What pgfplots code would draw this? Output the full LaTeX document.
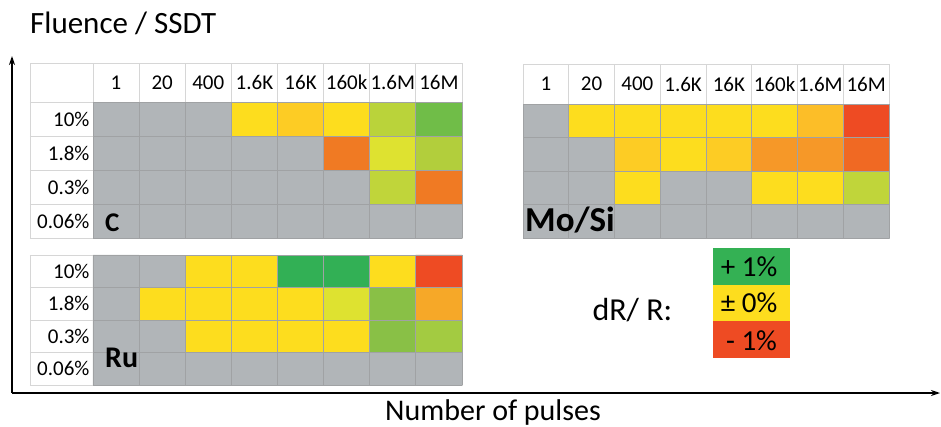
\documentclass[border=0pt]{standalone}
\usepackage{fontspec}
\setmainfont{Carlito}
\usepackage{pgfplots}
\pgfplotsset{compat=1.18}
\usetikzlibrary{arrows.meta}
\definecolor{gridgray}{RGB}{160,162,164}
\definecolor{borderg}{RGB}{214,214,214}
\definecolor{lgreen}{RGB}{52,177,84}
\definecolor{lyellow}{RGB}{253,221,30}
\definecolor{lred}{RGB}{238,75,35}
\pgfplotsset{
 heat/.style={
  colormap={heat}{
   rgb255=(177,181,184) % 0 gray
   rgb255=(253,221,30)  % 1 yellow
   rgb255=(253,204,36)  % 2 gold
   rgb255=(186,211,58)  % 3 light yellow-green
   rgb255=(112,189,72)  % 4 green
   rgb255=(240,122,35)  % 5 orange
   rgb255=(222,226,48)  % 6 lime yellow
   rgb255=(178,206,60)  % 7 yellow-green
   rgb255=(50,176,85)   % 8 dark green
   rgb255=(238,75,35)   % 9 red
   rgb255=(246,168,40)  % 10 orange-yellow
   rgb255=(137,192,70)  % 11 green
   rgb255=(163,203,65)  % 12 green-yellow
   rgb255=(252,190,40)  % 13 amber
   rgb255=(246,152,40)  % 14 light orange
   rgb255=(240,105,35)  % 15 deep orange
   rgb255=(192,213,58)  % 16 yellow-green
  },
  colormap access=direct,
  scale only axis,
  xmin=-0.5,xmax=7.5,ymin=-0.5,ymax=3.5,
  enlargelimits=false,
  axis on top, clip=false,
  axis line style={draw=none},
  major tick length=0pt, minor tick length=0pt,
  minor xtick={-0.5,0.5,...,7.5}, minor ytick={-0.5,0.5,...,3.5},
  xminorgrids, yminorgrids,
  minor grid style={draw=gridgray, line width=0.9pt},
  tick label style={font=\fontsize{21}{25}\selectfont},
  xtick={0,...,7}, ytick={0,...,3},
  xticklabels={1,20,400,1.6K,16K,160k,1.6M,16M},
  yticklabels={0.06\%,0.3\%,1.8\%,10\%},
  xticklabel pos=upper,
 },
 heatcells/.style={matrix plot*, mesh/cols=8, point meta=explicit},
}
\begin{document}
\begin{tikzpicture}
\path[use as bounding box] (0,0) rectangle (941pt,426pt);
% ---------- legend ----------
\begin{axis}[at={(713pt,68pt)}, anchor=south west, scale only axis, width=77pt, height=110pt,
  xmin=0, xmax=1, ymin=0, ymax=3, axis lines=none, clip=false]
\addplot[draw=none, fill=lred] coordinates {(0,0) (1,0) (1,1) (0,1)} --cycle;
\addplot[draw=none, fill=lyellow] coordinates {(0,1) (1,1) (1,2) (0,2)} --cycle;
\addplot[draw=none, fill=lgreen] coordinates {(0,2) (1,2) (1,3) (0,3)} --cycle;
\node[font=\fontsize{29}{33}\selectfont] at (axis cs:0.47,2.5) {+ 1\%};
\node[font=\fontsize{29}{33}\selectfont] at (axis cs:0.47,1.5) {± 0\%};
\node[font=\fontsize{29}{33}\selectfont] at (axis cs:0.5,0.47) {- 1\%};
\end{axis}
% ---------- C ----------
\begin{axis}[heat, at={(93pt,188pt)}, anchor=south west, width=369pt, height=136pt,
  xticklabel style={anchor=center, yshift=19.5pt}]
\addplot[heatcells] coordinates {
(0,0)[0] (1,0)[0] (2,0)[0] (3,0)[0] (4,0)[0] (5,0)[0] (6,0)[0] (7,0)[0]
(0,1)[0] (1,1)[0] (2,1)[0] (3,1)[0] (4,1)[0] (5,1)[0] (6,1)[16] (7,1)[5]
(0,2)[0] (1,2)[0] (2,2)[0] (3,2)[0] (4,2)[0] (5,2)[5] (6,2)[6] (7,2)[7]
(0,3)[0] (1,3)[0] (2,3)[0] (3,3)[1] (4,3)[2] (5,3)[1] (6,3)[3] (7,3)[4]
};
\draw[borderg, line width=0.9pt] (axis cs:-1.866,-0.5) rectangle (axis cs:7.5,4.647);
\pgfplotsinvokeforeach{-0.5,0.5,1.5,2.5,3.5,4.5,5.5,6.5}{
  \draw[borderg, line width=0.9pt] (axis cs:#1,3.5) -- (axis cs:#1,4.647);}
\pgfplotsinvokeforeach{-0.5,0.5,1.5,2.5,3.5}{
  \draw[borderg, line width=0.9pt] (axis cs:-1.866,#1) -- (axis cs:-0.5,#1);}
\draw[borderg, line width=0.9pt] (axis cs:-0.5,-0.5) -- (axis cs:-0.5,4.647);
\end{axis}
% ---------- Ru ----------
\begin{axis}[heat, at={(93pt,41pt)}, anchor=south west, width=369pt, height=130pt,
  xticklabels={}]
\addplot[heatcells] coordinates {
(0,0)[0] (1,0)[0] (2,0)[0] (3,0)[0] (4,0)[0] (5,0)[0] (6,0)[0] (7,0)[0]
(0,1)[0] (1,1)[0] (2,1)[1] (3,1)[1] (4,1)[1] (5,1)[1] (6,1)[11] (7,1)[12]
(0,2)[0] (1,2)[1] (2,2)[1] (3,2)[1] (4,2)[1] (5,2)[6] (6,2)[11] (7,2)[10]
(0,3)[0] (1,3)[0] (2,3)[1] (3,3)[1] (4,3)[8] (5,3)[8] (6,3)[1] (7,3)[9]
};
\draw[borderg, line width=0.9pt] (axis cs:-1.866,-0.5) rectangle (axis cs:7.5,3.5);
\pgfplotsinvokeforeach{-0.5,0.5,1.5,2.5,3.5}{
  \draw[borderg, line width=0.9pt] (axis cs:-1.866,#1) -- (axis cs:-0.5,#1);}
\end{axis}
% ---------- Mo/Si ----------
\begin{axis}[heat, at={(523pt,188pt)}, anchor=south west, width=366pt, height=134pt,
  yticklabels={}, xticklabel style={anchor=center, yshift=20pt}]
\addplot[heatcells] coordinates {
(0,0)[0] (1,0)[0] (2,0)[0] (3,0)[0] (4,0)[0] (5,0)[0] (6,0)[0] (7,0)[0]
(0,1)[0] (1,1)[0] (2,1)[1] (3,1)[0] (4,1)[0] (5,1)[1] (6,1)[1] (7,1)[16]
(0,2)[0] (1,2)[0] (2,2)[2] (3,2)[1] (4,2)[2] (5,2)[14] (6,2)[14] (7,2)[15]
(0,3)[0] (1,3)[1] (2,3)[1] (3,3)[1] (4,3)[1] (5,3)[1] (6,3)[13] (7,3)[9]
};
\draw[borderg, line width=0.9pt] (axis cs:-0.5,3.5) rectangle (axis cs:7.5,4.694);
\pgfplotsinvokeforeach{0.5,1.5,2.5,3.5,4.5,5.5,6.5}{
  \draw[borderg, line width=0.9pt] (axis cs:#1,3.5) -- (axis cs:#1,4.694);}
\end{axis}
\node[anchor=base west, font=\fontsize{32}{36}\selectfont] at (589pt,106pt) {dR/ R:};
% ---------- material labels ----------
\node[anchor=base west, inner sep=0pt, font=\bfseries\fontsize{27}{31}\selectfont] at (105pt,194pt) {C};
\node[anchor=base west, inner sep=0pt, font=\bfseries\fontsize{30}{34}\selectfont] at (105pt,59pt) {Ru};
\node[anchor=base west, inner sep=0pt, font=\bfseries\fontsize{35}{39}\selectfont] at (525pt,194pt) {Mo/Si};
% ---------- titles and arrows ----------
\node[anchor=base west, inner sep=0pt, font=\fontsize{31}{35}\selectfont] at (30pt,392pt) {Fluence / SSDT};
\node[anchor=base, inner sep=0pt, font=\fontsize{30}{34}\selectfont] at (493pt,6pt) {Number of pulses};
\draw[line width=1.6pt, -{Stealth[length=9pt,width=6pt]}] (12pt,33pt) -- (12pt,370pt);
\draw[line width=1.6pt, -{Stealth[length=9pt,width=6pt]}] (12pt,33pt) -- (940pt,33pt);
\end{tikzpicture}
\end{document}
